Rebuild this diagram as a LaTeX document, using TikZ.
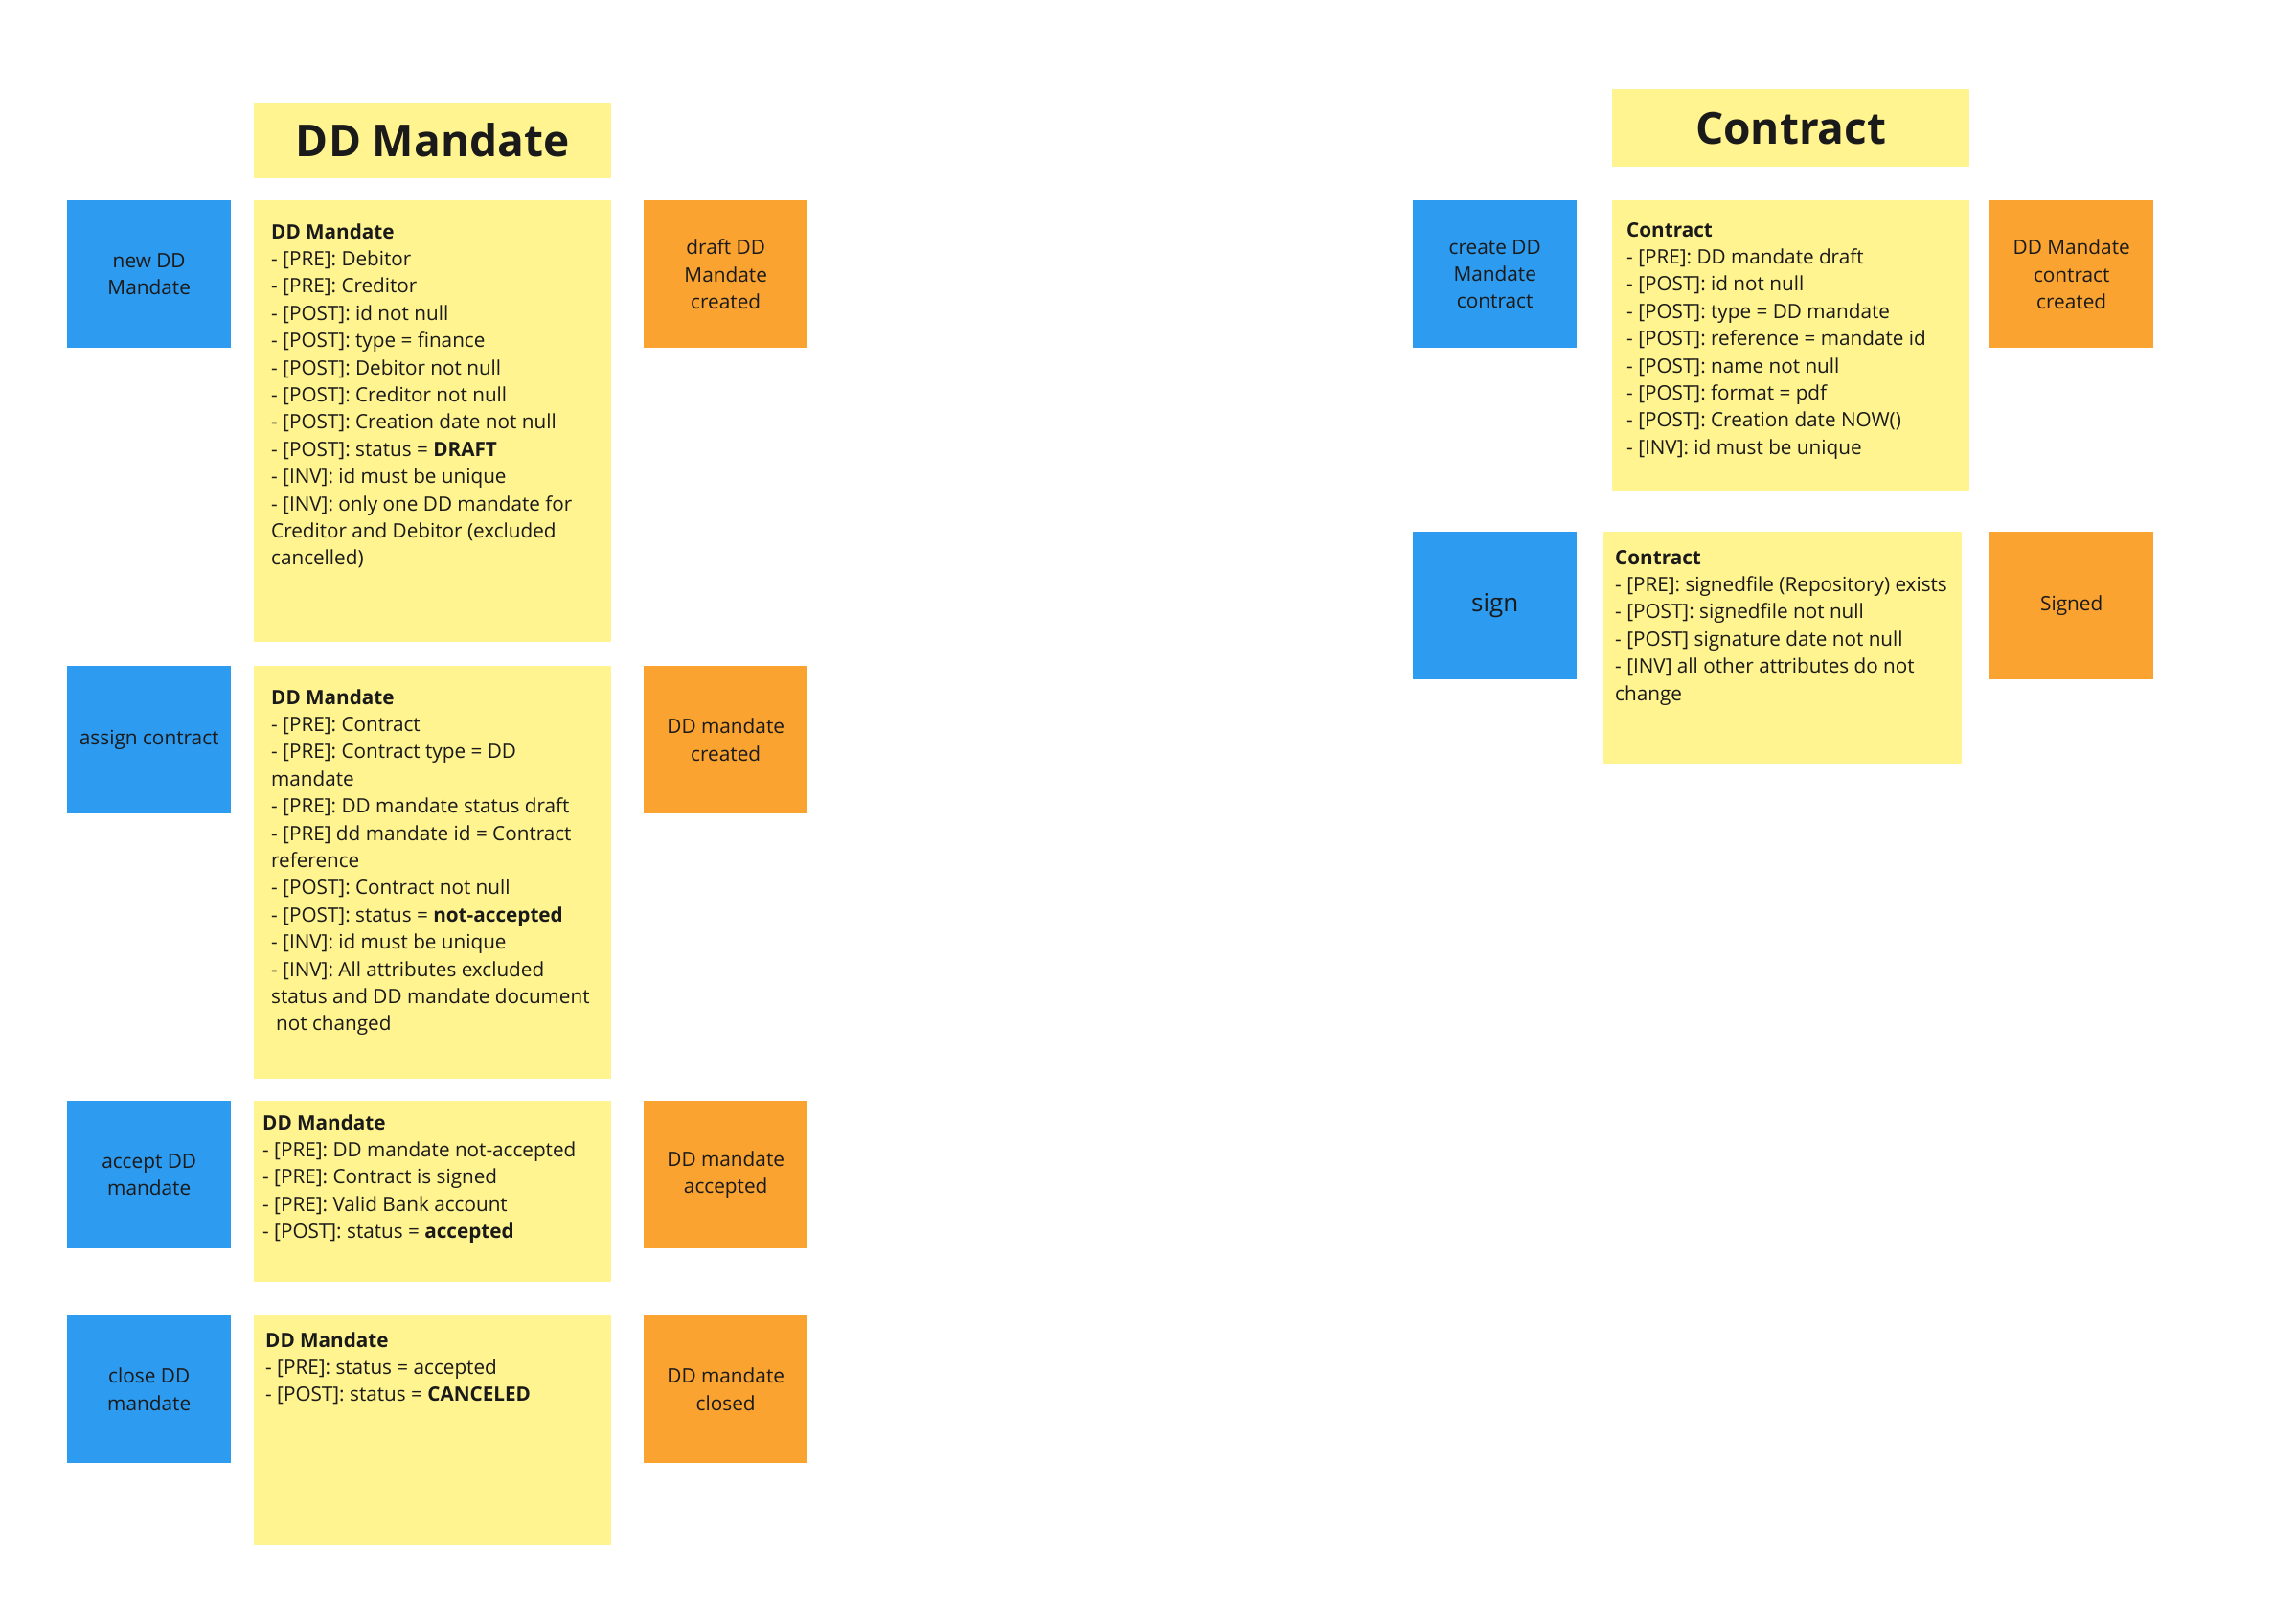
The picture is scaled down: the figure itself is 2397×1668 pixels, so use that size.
\documentclass[tikz,border=0pt]{standalone}
\usepackage{fontspec}
\setmainfont{Open Sans}
\definecolor{stickyblue}{HTML}{2D9BF0}
\definecolor{stickyorange}{HTML}{FAA330}
\definecolor{stickyyellow}{HTML}{FFF48F}
\definecolor{inkdark}{HTML}{1A1A1A}
\tikzset{
  card/.style={anchor=north west, inner sep=0pt, minimum width=171pt, minimum height=154pt,
    align=center, text=inkdark, font=\fontsize{20.8}{28.4}\selectfont},
  cmdcard/.style={card, fill=stickyblue},
  evtcard/.style={card, fill=stickyorange},
  notecard/.style={anchor=north west, inner sep=0pt, fill=stickyyellow},
  notetext/.style={anchor=base west, inner sep=0pt, text=inkdark, font=\fontsize{20.7}{28.4}\selectfont},
  titletext/.style={text=inkdark, font=\fontsize{46}{55}\selectfont\bfseries}
}
\newcommand{\notelines}[1]{\parbox[t]{420pt}{\raggedright #1}}
\begin{document}
\begin{tikzpicture}[x=1pt,y=-1pt]
\useasboundingbox (0,0) rectangle (2397,1668);
\fill[white] (0,0) rectangle (2397,1668);

% ---------- DD Mandate column ----------
\node[notecard, titletext, minimum width=373pt, minimum height=79pt] (hdd) at (265,107) {DD Mandate};

% row 1
\node[cmdcard] (c1) at (70,209) {new DD\\Mandate};
\node[notecard, minimum width=373pt, minimum height=461pt] (y1) at (265,209) {};
\node[evtcard] (e1) at (672,209) {draft DD\\Mandate\\created};
\node[notetext] (t1) at (283,249) {\notelines{\textbf{DD Mandate}\\- [PRE]: Debitor\\- [PRE]: Creditor\\- [POST]: id not null\\- [POST]: type = finance\\- [POST]: Debitor not null\\- [POST]: Creditor not null\\- [POST]: Creation date not null\\- [POST]: status = \textbf{DRAFT}\\- [INV]: id must be unique\\- [INV]: only one DD mandate for\\Creditor and Debitor (excluded\\cancelled)}};

% row 2
\node[cmdcard] (c2) at (70,695) {assign contract};
\node[notecard, minimum width=373pt, minimum height=431pt] (y2) at (265,695) {};
\node[evtcard] (e2) at (672,695) {DD mandate\\created};
\node[notetext] (t2) at (283,735) {\notelines{\textbf{DD Mandate}\\- [PRE]: Contract\\- [PRE]: Contract type = DD\\mandate\\- [PRE]: DD mandate status draft\\- [PRE] dd mandate id = Contract\\reference\\- [POST]: Contract not null\\- [POST]: status = \textbf{not-accepted}\\- [INV]: id must be unique\\- [INV]: All attributes excluded\\status and DD mandate document\\\hspace*{5pt}not changed}};

% row 3
\node[cmdcard] (c3) at (70,1149) {accept DD\\mandate};
\node[notecard, minimum width=373pt, minimum height=189pt] (y3) at (265,1149) {};
\node[evtcard] (e3) at (672,1149) {DD mandate\\accepted};
\node[notetext] (t3) at (274,1179) {\notelines{\textbf{DD Mandate}\\- [PRE]: DD mandate not-accepted\\- [PRE]: Contract is signed\\- [PRE]: Valid Bank account\\- [POST]: status = \textbf{accepted}}};

% row 4
\node[cmdcard] (c4) at (70,1373) {close DD\\mandate};
\node[notecard, minimum width=373pt, minimum height=240pt] (y4) at (265,1373) {};
\node[evtcard] (e4) at (672,1373) {DD mandate\\closed};
\node[notetext] (t4) at (277,1406) {\notelines{\textbf{DD Mandate}\\- [PRE]: status = accepted\\- [POST]: status = \textbf{CANCELED}}};

% ---------- Contract column ----------
\node[notecard, titletext, minimum width=373pt, minimum height=81pt] (hct) at (1683,93) {Contract};

% row 1
\node[cmdcard] (c5) at (1475,209) {create DD\\Mandate\\contract};
\node[notecard, minimum width=373pt, minimum height=304pt] (y5) at (1683,209) {};
\node[evtcard] (e5) at (2077,209) {DD Mandate\\contract\\created};
\node[notetext] (t5) at (1698,247) {\notelines{\textbf{Contract}\\- [PRE]: DD mandate draft\\- [POST]: id not null\\- [POST]: type = DD mandate\\- [POST]: reference = mandate id\\- [POST]: name not null\\- [POST]: format = pdf\\- [POST]: Creation date NOW()\\- [INV]: id must be unique}};

% row 2
\node[cmdcard, font=\fontsize{26}{32}\selectfont] (c6) at (1475,555) {sign};
\node[notecard, minimum width=374pt, minimum height=242pt] (y6) at (1674,555) {};
\node[evtcard] (e6) at (2077,555) {Signed};
\node[notetext] (t6) at (1686,589) {\notelines{\textbf{Contract}\\- [PRE]: signedfile (Repository) exists\\- [POST]: signedfile not null\\- [POST] signature date not null\\- [INV] all other attributes do not\\change}};
\end{tikzpicture}
\end{document}
